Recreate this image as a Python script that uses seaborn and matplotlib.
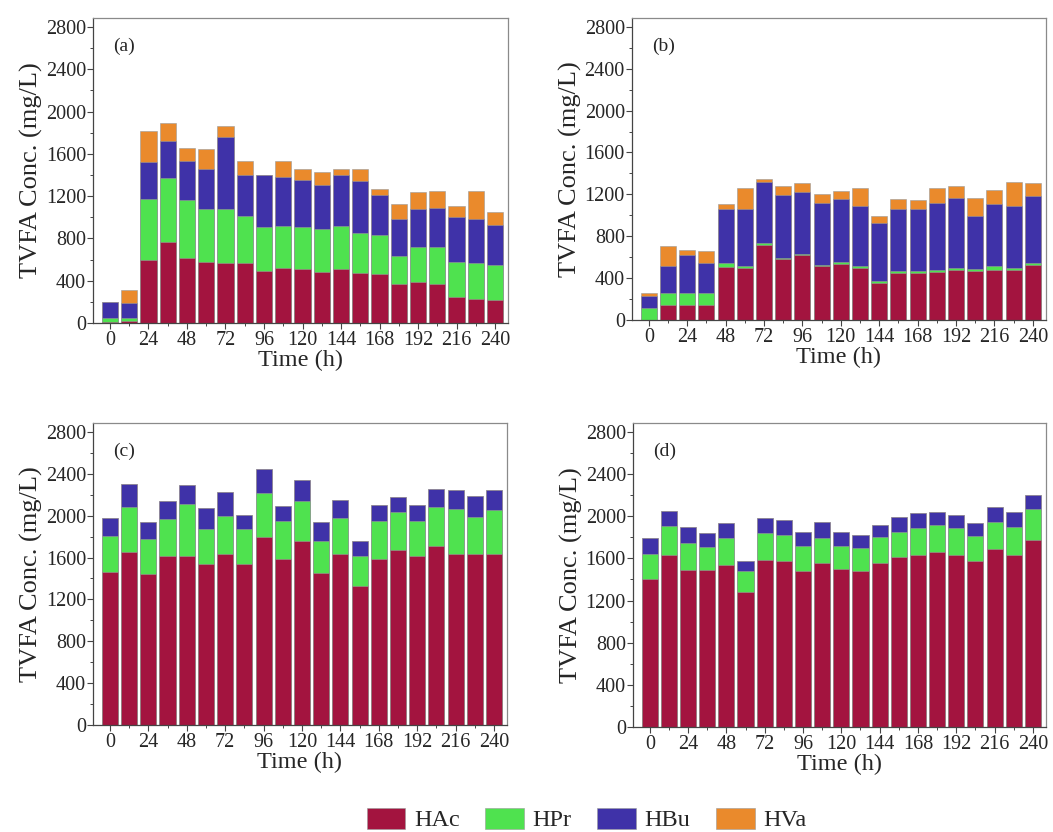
import numpy as np
import pandas as pd
import matplotlib
matplotlib.use("Agg")
import matplotlib.pyplot as plt
import seaborn as sns
from matplotlib.patches import Patch

# Sampling times (h)
time_h = [0, 12, 24, 36, 48, 60, 72, 84, 96, 108, 120, 132, 144, 156, 168, 180, 192, 204, 216, 228, 240]
acids = ["HAc", "HPr", "HBu", "HVa"]
acid_colors = ["#A3143F", "#4FE24F", "#3F32A8", "#EA8A2C"]

# Panel (a) individual VFA concentrations (mg/L)
a_hac = [10, 15, 597, 768, 619, 581, 565, 565, 492, 518, 508, 486, 514, 476, 460, 365, 390, 365, 248, 229, 222]
a_hpr = [40, 30, 571, 607, 546, 499, 515, 445, 413, 403, 397, 403, 407, 375, 372, 270, 331, 349, 330, 336, 324]
a_hbu = [145, 145, 356, 349, 365, 374, 679, 393, 498, 460, 444, 413, 476, 489, 375, 349, 359, 372, 422, 419, 381]
a_hva = [5, 120, 292, 165, 121, 191, 108, 127, 0, 149, 105, 127, 57, 114, 57, 143, 158, 159, 111, 261, 127]

# Panel (b)
b_hac = [0, 144, 144, 144, 502, 496, 720, 582, 624, 518, 538, 496, 352, 448, 448, 454, 474, 470, 480, 474, 528]
b_hpr = [115, 112, 112, 112, 42, 16, 16, 10, 10, 10, 12, 16, 16, 16, 16, 26, 22, 16, 32, 22, 16]
b_hbu = [115, 256, 368, 288, 512, 544, 582, 598, 588, 586, 602, 576, 560, 592, 592, 634, 672, 506, 592, 592, 640]
b_hva = [32, 192, 42, 112, 48, 208, 26, 90, 90, 86, 80, 170, 70, 96, 90, 150, 112, 176, 138, 230, 128]

# Panel (c)
c_hac = [1462, 1654, 1440, 1616, 1616, 1542, 1632, 1542, 1792, 1584, 1760, 1456, 1632, 1328, 1590, 1670, 1616, 1706, 1638, 1632, 1638]
c_hpr = [346, 426, 336, 352, 496, 330, 368, 330, 426, 368, 384, 304, 342, 288, 362, 368, 336, 374, 426, 352, 420]
c_hbu = [166, 224, 160, 176, 176, 198, 230, 134, 230, 144, 192, 182, 176, 144, 150, 144, 150, 170, 182, 208, 188]
c_hva = [0] * 21

# Panel (d)
d_hac = [1403, 1634, 1492, 1492, 1533, 1277, 1586, 1571, 1485, 1555, 1498, 1476, 1561, 1618, 1634, 1656, 1634, 1580, 1687, 1634, 1776]
d_hpr = [240, 275, 252, 214, 259, 199, 259, 252, 234, 237, 215, 221, 240, 237, 253, 262, 253, 234, 263, 262, 291]
d_hbu = [149, 145, 158, 139, 148, 104, 136, 143, 136, 158, 136, 126, 117, 142, 142, 127, 126, 126, 142, 149, 136]
d_hva = [0] * 21

panels = [
    ("(a)", [a_hac, a_hpr, a_hbu, a_hva]),
    ("(b)", [b_hac, b_hpr, b_hbu, b_hva]),
    ("(c)", [c_hac, c_hpr, c_hbu, c_hva]),
    ("(d)", [d_hac, d_hpr, d_hbu, d_hva]),
]

sns.set_style("ticks")
plt.rcParams["font.family"] = ["Liberation Serif", "DejaVu Serif"]
plt.rcParams["xtick.direction"] = "out"
plt.rcParams["ytick.direction"] = "out"

fig = plt.figure(figsize=(10.53, 8.32), dpi=100)
positions = [
    [0.0883, 0.6118, 0.394, 0.3666],
    [0.600, 0.6154, 0.393, 0.3630],
    [0.0883, 0.1286, 0.393, 0.3630],
    [0.601, 0.1262, 0.392, 0.3654],
]

for (label, series), pos in zip(panels, positions):
    ax = fig.add_axes(pos)
    df = pd.DataFrame({"Time": time_h})
    for name, vals in zip(acids, series):
        df[name] = vals
    # cumulative tops, drawn from the tallest layer down so lower layers sit in front
    cum = df[acids].cumsum(axis=1)
    for i in range(len(acids) - 1, -1, -1):
        sub = pd.DataFrame({"Time": df["Time"], "top": cum[acids[i]]})
        sns.barplot(data=sub, x="Time", y="top", native_scale=True,
                    color=acid_colors[i], saturation=1, width=0.84,
                    errorbar=None, edgecolor="#9a9a9a", linewidth=0.4, ax=ax)
    ax.set_xlim(-10.6, 248)
    ax.set_ylim(0, 2885)
    ax.set_xticks(np.arange(0, 241, 24))
    ax.set_xticks(np.arange(12, 241, 24), minor=True)
    ax.set_yticks(np.arange(0, 2801, 400))
    ax.set_yticks(np.arange(200, 2801, 400), minor=True)
    ax.tick_params(axis="both", which="major", labelsize=14.5, length=4, width=0.8, color="#444")
    ax.tick_params(axis="both", which="minor", length=2.5, width=0.7, color="#444")
    ax.tick_params(axis="y", pad=1)
    ax.tick_params(axis="x", pad=2)
    ax.set_xlabel("Time (h)", fontsize=17.5, labelpad=0)
    ax.set_ylabel("TVFA Conc. (mg/L)", fontsize=19, labelpad=2)
    for side in ["left", "bottom"]:
        ax.spines[side].set_color("#444444")
        ax.spines[side].set_linewidth(0.9)
    for side in ["top", "right"]:
        ax.spines[side].set_visible(True)
        ax.spines[side].set_color("#8a8a8a")
        ax.spines[side].set_linewidth(0.9)
    ax.text(0.048, 0.935, label, transform=ax.transAxes, fontsize=14, va="top", ha="left")

handles = [Patch(facecolor=c, edgecolor="#9a9a9a", linewidth=0.4) for c in acid_colors]
fig.legend(handles, acids, loc="center", bbox_to_anchor=(0.557, 0.015), ncol=4,
           frameon=False, fontsize=17.5, handlelength=1.6, handleheight=0.95,
           columnspacing=1.05, handletextpad=0.35, borderpad=0, borderaxespad=0)

fig.savefig("out.png", dpi=100)
